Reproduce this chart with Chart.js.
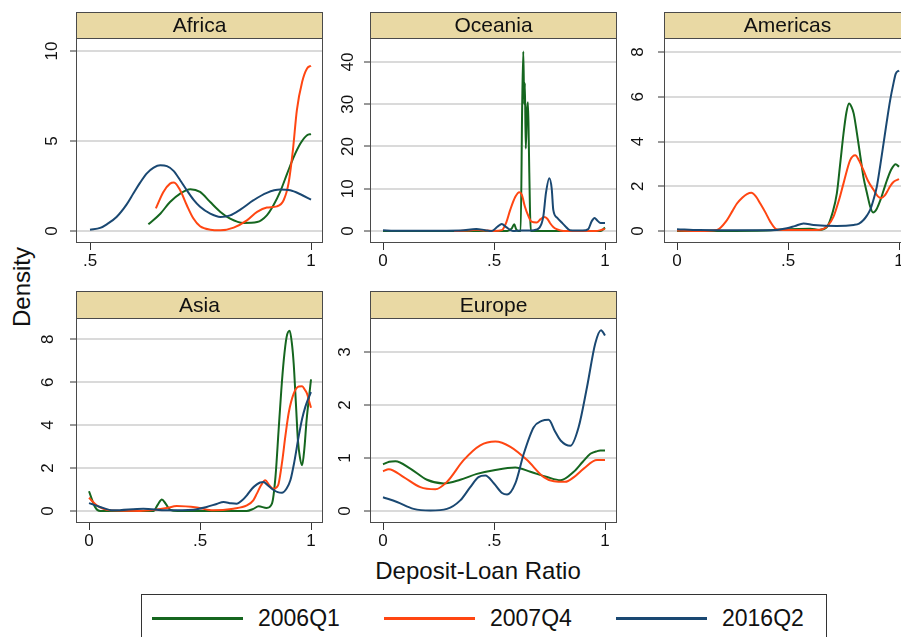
<!DOCTYPE html>
<html>
<head>
<meta charset="utf-8">
<script src="https://cdn.jsdelivr.net/npm/chart.js@4.4.1/dist/chart.umd.min.js"></script>
<style>
html, body { margin:0; padding:0; background:#fff; overflow:hidden; }
body { width:901px; height:637px; position:relative; font-family:"Liberation Sans", Arial, sans-serif; color:#111; }
canvas { position:absolute; }
#ytitle { position:absolute; left:22px; top:287px; transform:translate(-50%,-50%) rotate(-90deg); font-size:24px; white-space:nowrap; }
#xtitle { position:absolute; left:478px; top:571px; transform:translate(-50%,-50%); font-size:24px; white-space:nowrap; }
#legend { position:absolute; left:141px; top:594px; width:686px; height:60px; border:1px solid #333; box-sizing:border-box; }
.lg-line { position:absolute; top:22px; width:91px; height:3px; }
.lg-text { position:absolute; top:23px; transform:translateY(-50%); font-size:23px; line-height:1; white-space:nowrap; }
</style>
</head>
<body>
<div id="ytitle">Density</div>
<div id="xtitle">Deposit-Loan Ratio</div>
<div id="legend"></div>

<script>
// series names & region names
var seriesNames = ['2006Q1', '2007Q4', '2016Q2'];
var regions = ['Africa', 'Oceania', 'Americas', 'Asia', 'Europe'];

// tick values
var africaXTicks = [0.5, 1];
var unitXTicks = [0, 0.5, 1];
var africaYTicks = [0, 5, 10];
var oceaniaYTicks = [0, 10, 20, 30, 40];
var americasYTicks = [0, 2, 4, 6, 8];
var asiaYTicks = [0, 2, 4, 6, 8];
var europeYTicks = [0, 1, 2, 3];

// density curves, [ratio, density]
var africa2006Q1 = [[.632,.37],[.659,.96],[.681,1.61],[.704,2.08],[.727,2.32],[.749,2.17],[.772,1.61],[.795,1.06],[.817,.69],[.847,.45],[.878,.5],[.9,.87],[.915,1.43],[.93,2.17],[.946,3.19],[.961,4.12],[.976,4.86],[.991,5.32],[1,5.38]];
var africa2007Q4 = [[.649,1.26],[.666,2.17],[.681,2.63],[.69,2.69],[.704,2.26],[.719,1.43],[.734,.69],[.749,.26],[.772,.07],[.795,.04],[.825,.19],[.855,.59],[.878,1.06],[.9,1.3],[.923,1.37],[.938,1.71],[.949,2.63],[.959,4.49],[.968,6.72],[.98,8.29],[.991,9.03],[1,9.18]];
var africa2016Q2 = [[.5,.07],[.523,.17],[.538,.37],[.56,.78],[.583,1.48],[.598,2.08],[.613,2.67],[.628,3.19],[.644,3.52],[.659,3.65],[.674,3.6],[.689,3.34],[.704,2.82],[.719,2.26],[.734,1.74],[.749,1.34],[.772,.96],[.795,.78],[.817,.87],[.84,1.19],[.87,1.71],[.9,2.12],[.93,2.3],[.953,2.26],[.976,2.04],[1,1.74]];

var oceania2006Q1 = [[0,0],[.4,0],[.56,0],[.58,.6],[.591,1.6],[.6,.4],[.61,0],[.62,0],[.627,30],[.632,42.5],[.636,30],[.639,35],[.643,19.5],[.648,28],[.653,30.5],[.657,20],[.662,5],[.666,0],[.7,0],[.98,0],[1,.8]];
var oceania2007Q4 = [[.32,0],[.38,.1],[.42,.3],[.46,.1],[.5,0],[.535,.2],[.555,2],[.573,5],[.596,8.1],[.614,9.2],[.625,8.6],[.639,5.8],[.655,3.5],[.669,2.2],[.692,2],[.71,2.8],[.725,3.3],[.74,2.9],[.752,1.9],[.768,.9],[.782,.45],[.812,0],[.96,0],[.98,.2],[1,.5]];
var oceania2016Q2 = [[0,.2],[.05,.05],[.2,.05],[.35,.1],[.42,.5],[.46,.2],[.49,0],[.515,1],[.535,1.66],[.555,.9],[.585,0],[.62,.1],[.68,.2],[.705,.8],[.722,3.4],[.734,9],[.749,12.5],[.76,10],[.767,5],[.785,3.1],[.805,2],[.82,1.2],[.842,.2],[.9,.1],[.925,.5],[.94,2.3],[.953,3.1],[.965,2.5],[.98,1.9],[1,1.9]];

var americas2006Q1 = [[0,0],[.2,0],[.4,.02],[.5,.08],[.6,.1],[.64,.05],[.676,.19],[.7,.8],[.72,1.68],[.735,3],[.75,4.36],[.763,5.3],[.775,5.7],[.786,5.55],[.796,5.25],[.81,4.4],[.826,3.32],[.84,2.4],[.856,1.68],[.87,1.1],[.883,.83],[.9,1],[.916,1.38],[.93,1.8],[.946,2.28],[.965,2.75],[.985,2.99],[1,2.87]];
var americas2007Q4 = [[0,.02],[.1,0],[.18,.05],[.225,.49],[.25,.9],[.27,1.23],[.295,1.5],[.315,1.65],[.335,1.71],[.355,1.55],[.375,1.23],[.4,.8],[.42,.42],[.45,.07],[.5,.05],[.6,.05],[.645,.06],[.68,.25],[.705,.64],[.73,1.4],[.75,2.13],[.78,3.17],[.803,3.39],[.82,3.15],[.84,2.72],[.86,2.25],[.886,1.83],[.905,1.55],[.919,1.47],[.935,1.58],[.946,1.75],[.96,2],[.976,2.2],[1,2.32]];
var americas2016Q2 = [[0,.08],[.1,.04],[.3,.03],[.45,.05],[.495,.12],[.53,.22],[.57,.34],[.615,.27],[.72,.22],[.796,.27],[.82,.33],[.84,.49],[.856,.7],[.87,.94],[.885,1.4],[.9,1.98],[.915,2.9],[.93,3.9],[.945,4.9],[.96,5.84],[.975,6.6],[.985,7.03],[1,7.18]];

var asia2006Q1 = [[0,.92],[.027,.19],[.05,0],[.2,0],[.29,0],[.31,.3],[.328,.54],[.345,.35],[.365,.06],[.4,0],[.56,0],[.71,0],[.74,.1],[.764,.22],[.8,.14],[.824,.34],[.84,1.6],[.854,3.76],[.866,5.6],[.877,7],[.89,8.1],[.904,8.39],[.914,7.8],[.922,6.86],[.932,5],[.941,3.3],[.95,2.5],[.96,2.13],[.97,2.9],[.98,4.22],[.99,5.2],[1,6.13]];
var asia2007Q4 = [[0,.62],[.035,.26],[.095,.03],[.23,0],[.3,.06],[.35,.14],[.395,.23],[.486,.16],[.56,.03],[.65,.11],[.711,.26],[.74,.5],[.756,.81],[.775,1.2],[.794,1.43],[.812,1.2],[.83,1.04],[.845,1.1],[.854,1.27],[.87,2.3],[.884,3.45],[.9,4.6],[.922,5.47],[.945,5.8],[.96,5.81],[.972,5.65],[.982,5.47],[.992,5.1],[1,4.81]];
var asia2016Q2 = [[0,.37],[.05,.19],[.11,.03],[.245,.11],[.35,.03],[.47,.06],[.53,.19],[.575,.33],[.606,.42],[.64,.36],[.666,.34],[.69,.5],[.711,.73],[.735,1.05],[.756,1.24],[.771,1.33],[.786,1.35],[.805,1.2],[.83,.99],[.85,.88],[.869,.85],[.89,1.05],[.907,1.43],[.925,2.3],[.944,3.45],[.96,4.3],[.974,4.84],[.988,5.25],[1,5.54]];

var europe2006Q1 = [[0,.88],[.028,.93],[.056,.94],[.123,.8],[.198,.59],[.273,.52],[.348,.59],[.423,.7],[.5,.77],[.596,.82],[.664,.74],[.739,.64],[.8,.58],[.859,.74],[.9,.93],[.934,1.08],[.965,1.13],[.979,1.14],[1,1.14]];
var europe2007Q4 = [[0,.75],[.026,.79],[.093,.64],[.168,.45],[.236,.41],[.288,.55],[.363,.96],[.438,1.24],[.506,1.31],[.574,1.21],[.649,.96],[.724,.64],[.77,.56],[.821,.55],[.86,.64],[.904,.8],[.964,.96],[1,.96]];
var europe2016Q2 = [[0,.26],[.063,.17],[.138,.04],[.213,.01],[.288,.04],[.348,.2],[.393,.45],[.43,.64],[.461,.67],[.5,.52],[.536,.34],[.559,.31],[.596,.52],[.634,1.08],[.679,1.58],[.715,1.7],[.746,1.72],[.775,1.5],[.8,1.33],[.844,1.23],[.881,1.58],[.919,2.34],[.956,3.16],[.982,3.41],[1,3.31]];

var seriesColors = ['#15661f', '#ff4612', '#1a4872'];
var FONT = '"Liberation Sans", Arial, sans-serif';

function tickText(v) {
  return String(v).replace(/^0\./, '.');
}

// header strip + frame around the plot region
var stripPlugin = {
  id: 'strip',
  afterDraw: function(chart, args, opts) {
    var ctx = chart.ctx, a = chart.chartArea;
    var l = Math.round(a.left) + 0.5, r = Math.round(a.right) - 0.5;
    var t = Math.round(a.top) + 0.5, b = Math.round(a.bottom) - 0.5;
    ctx.save();
    ctx.fillStyle = '#e9d9a4';
    ctx.fillRect(l, 0.5, r - l, t - 0.5);
    ctx.strokeStyle = '#4a4a4a';
    ctx.lineWidth = 1;
    ctx.strokeRect(l, 0.5, r - l, t - 0.5);
    ctx.strokeRect(l, t, r - l, b - t);
    ctx.fillStyle = '#111';
    ctx.font = '21px ' + FONT;
    ctx.textAlign = 'center';
    ctx.textBaseline = 'middle';
    ctx.fillText(opts.title, (l + r) / 2, t / 2 + 1);
    ctx.restore();
  }
};

function makePanel(title, series, xmin, xmax, xticks, ymin, ymax, yticks, box, ypad) {
  var c = document.createElement('canvas');
  var w = box.r - box.l + 42, h = box.b - box.t + 30;
  c.width = w; c.height = h;
  c.style.left = (box.l - 40) + 'px';
  c.style.top = box.t + 'px';
  c.style.width = w + 'px';
  c.style.height = h + 'px';
  document.body.appendChild(c);

  var datasets = series.map(function(pts, i) {
    return {
      label: seriesNames[i],
      data: pts.map(function(p) { return {x: p[0], y: p[1]}; }),
      borderColor: seriesColors[i],
      borderWidth: 2,
      pointRadius: 0,
      fill: false,
      cubicInterpolationMode: 'monotone',
      order: series.length - i
    };
  });

  new Chart(c.getContext('2d'), {
    type: 'line',
    data: { datasets: datasets },
    plugins: [stripPlugin],
    options: {
      responsive: false,
      animation: false,
      events: [],
      layout: { padding: { top: box.head, right: 2, left: 0, bottom: 0 } },
      plugins: { legend: { display: false }, tooltip: { enabled: false }, strip: { title: title } },
      scales: {
        x: {
          type: 'linear', min: xmin, max: xmax,
          afterBuildTicks: function(s) { s.ticks = xticks.map(function(v) { return {value: v}; }); },
          afterFit: function(s) { s.height = 30; },
          border: { display: false },
          grid: { drawOnChartArea: false, tickLength: 7, tickColor: '#333', tickWidth: 1 },
          ticks: { autoSkip: false, maxRotation: 0, padding: 1, color: '#111', font: { size: 17, family: FONT },
                   callback: function(v) { return tickText(v); } }
        },
        y: {
          type: 'linear', min: ymin, max: ymax,
          afterBuildTicks: function(s) { s.ticks = yticks.map(function(v) { return {value: v}; }); },
          afterFit: function(s) { s.width = 40; },
          border: { display: false },
          grid: { color: '#dadada', lineWidth: 2, tickLength: 6, tickColor: '#333', tickWidth: 1 },
          ticks: { autoSkip: false, minRotation: 90, maxRotation: 90, crossAlign: 'center', padding: ypad,
                   color: '#111', font: { size: 17, family: FONT },
                   callback: function(v) { return tickText(v); } }
        }
      }
    }
  });
}

makePanel(regions[0], [africa2006Q1, africa2007Q4, africa2016Q2], 0.4683, 1.0271, africaXTicks,
  -0.667, 10.72, africaYTicks, {l: 76, r: 323, t: 12, b: 243, head: 26}, 8.5);
makePanel(regions[1], [oceania2006Q1, oceania2007Q4, oceania2016Q2], -0.0586, 1.054, unitXTicks,
  -2.84, 45.68, oceaniaYTicks, {l: 370, r: 617, t: 12, b: 243, head: 26}, 6.5);
makePanel(regions[2], [americas2006Q1, americas2007Q4, americas2016Q2], -0.0586, 1.054, unitXTicks,
  -0.536, 8.63, americasYTicks, {l: 664, r: 911, t: 12, b: 243, head: 26}, 15);
makePanel(regions[3], [asia2006Q1, asia2007Q4, asia2016Q2], -0.0586, 1.054, unitXTicks,
  -0.558, 8.98, asiaYTicks, {l: 76, r: 323, t: 291, b: 523, head: 27}, 17);
makePanel(regions[4], [europe2006Q1, europe2007Q4, europe2016Q2], -0.0586, 1.054, unitXTicks,
  -0.226, 3.64, europeYTicks, {l: 370, r: 617, t: 291, b: 523, head: 27}, 14);

// shared legend
var lg = document.getElementById('legend');
seriesNames.forEach(function(name, i) {
  var ln = document.createElement('div');
  ln.className = 'lg-line';
  ln.style.left = (10 + i * 232) + 'px';
  ln.style.background = seriesColors[i];
  lg.appendChild(ln);
  var tx = document.createElement('div');
  tx.className = 'lg-text';
  tx.style.left = (116 + i * 232) + 'px';
  tx.textContent = name;
  lg.appendChild(tx);
});
</script>
</body>
</html>
